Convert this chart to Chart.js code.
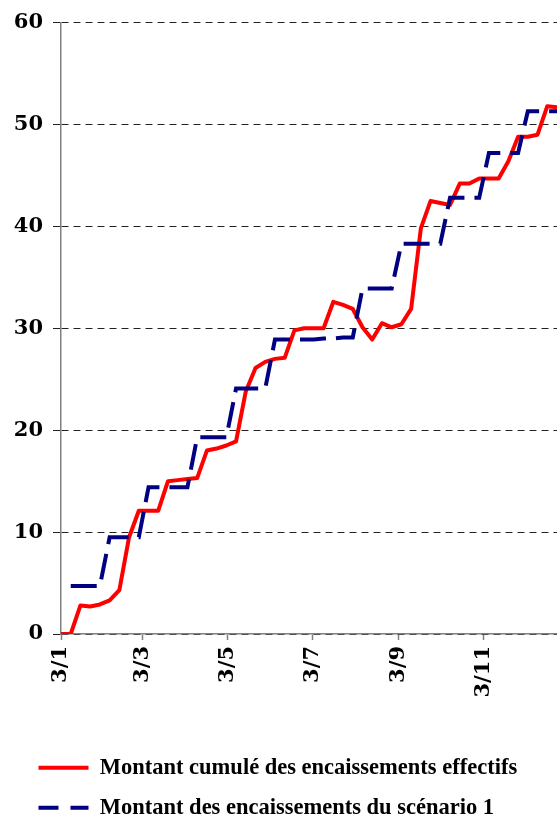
<!DOCTYPE html>
<html>
<head>
<meta charset="utf-8">
<title>Encaissements cumulés</title>
<script src="https://cdn.jsdelivr.net/npm/chart.js@4.4.1/dist/chart.umd.min.js"></script>
<style>
  html, body { margin: 0; padding: 0; background: #ffffff; overflow: hidden; }
  #wrap { position: relative; width: 557px; height: 829px; }
</style>
</head>
<body>
<div id="wrap"><canvas id="chart"></canvas></div>
<script>
// Jours écoulés depuis le 3/1 (un point par semaine)
const days = [
  0, 7, 14, 21, 28, 35, 42, 49, 56, 63, 70, 77, 84,
  91, 98, 105, 112, 119, 126, 133, 140, 147, 154, 161, 168, 175,
  182, 189, 196, 203, 210, 217, 224, 231, 238, 245, 252, 259, 266,
  273, 280, 287, 294, 301, 308, 315, 322, 329, 336, 343, 350, 357,
];

// Montant cumulé des encaissements effectifs
const effectifs = [
  0, 0, 2.8, 2.7, 2.9, 3.3, 4.3, 9.5, 12.1, 12.1, 12.1, 15.0, 15.1,
  15.2, 15.3, 18.0, 18.2, 18.5, 18.9, 23.8, 26.1, 26.7, 27.0, 27.1, 29.8, 30.0,
  30.0, 30.0, 32.6, 32.3, 31.9, 30.1, 28.9, 30.5, 30.1, 30.4, 31.9, 39.8, 42.5,
  42.3, 42.1, 44.2, 44.2, 44.7, 44.7, 44.7, 46.4, 48.8, 48.8, 49.0, 51.8, 51.7,
];

// Montant des encaissements du scénario 1
const scenario1 = [
  null, 4.7, 4.7, 4.7, 4.7, 9.5, 9.5, 9.5, 9.5, 14.4, 14.4, 14.4, 14.4,
  14.4, 19.3, 19.3, 19.3, 19.3, 24.1, 24.1, 24.1, 24.1, 28.9, 28.9, 28.9, 28.9,
  28.9, 29.0, 29.0, 29.1, 29.1, 33.9, 33.9, 33.9, 33.9, 38.3, 38.3, 38.3, 38.3,
  38.3, 42.8, 42.8, 42.8, 42.8, 47.2, 47.2, 47.2, 47.2, 51.3, 51.3, 51.3, 51.3,
];

// Graduations de l'axe des dates
const tickDays = [0, 59, 120, 181, 243, 304];
const tickLabels = ["3/1", "3/3", "3/5", "3/7", "3/9", "3/11"];

const seriesNames = [
  "Montant cumulé des encaissements effectifs",
  "Montant des encaissements du scénario 1",
];

const toPoints = (values) => values.map((v, i) => ({ x: days[i], y: v }));

const tickFont = { family: "DejaVu Serif", weight: "bold", size: 21 };

// Décale la légende vers la droite, sans toucher à l'axe vertical
const legendShift = {
  id: "legendShift",
  afterLayout(chart) {
    chart.legend.left += 9;
    chart.legend.right += 9;
  },
};

new Chart(document.getElementById("chart"), {
  type: "line",
  plugins: [legendShift],
  data: {
    datasets: [
      {
        label: seriesNames[0],
        data: toPoints(effectifs),
        borderColor: "#ff0000",
        backgroundColor: "#ff0000",
        borderWidth: 4,
        borderJoinStyle: "round",
        pointRadius: 0,
        tension: 0,
        order: 1,
      },
      {
        label: seriesNames[1],
        data: toPoints(scenario1),
        borderColor: "#000080",
        backgroundColor: "#000080",
        borderWidth: 4,
        borderDash: [26, 10],
        borderCapStyle: "butt",
        pointRadius: 0,
        tension: 0,
        order: 0,
      },
    ],
  },
  options: {
    responsive: true,
    maintainAspectRatio: false,
    animation: false,
    layout: { padding: { left: 12, top: 22, right: 0, bottom: 0 } },
    plugins: {
      tooltip: { enabled: false },
      legend: {
        position: "bottom",
        align: "start",
        reverse: true,
        labels: {
          usePointStyle: true,
          pointStyle: "line",
          pointStyleWidth: 50,
          padding: 17.5,
          color: "#000000",
          font: { family: "Liberation Serif", weight: "bold", size: 22.5 },
          generateLabels: (chart) => {
            const items = Chart.defaults.plugins.legend.labels.generateLabels(chart);
            items.forEach((item) => {
              item.pointStyle = "line";
              if (item.datasetIndex === 1) item.lineDash = [20, 12];
            });
            return items;
          },
        },
      },
    },
    scales: {
      x: {
        type: "linear",
        min: 0,
        max: 357,
        afterBuildTicks: (scale) => {
          scale.ticks = tickDays.map((d) => ({ value: d }));
        },
        afterFit: (scale) => {
          scale.height = 105;
        },
        ticks: {
          autoSkip: false,
          minRotation: 90,
          maxRotation: 90,
          padding: 6,
          color: "#000000",
          font: tickFont,
          callback: (value) => tickLabels[tickDays.indexOf(value)],
        },
        grid: {
          drawOnChartArea: false,
          drawTicks: true,
          tickLength: 6,
          tickColor: "#808080",
          tickWidth: 1.5,
        },
        border: { display: true, color: "#808080", width: 1.5 },
      },
      y: {
        min: 0,
        max: 60,
        afterFit: (scale) => {
          scale.width = 49;
        },
        ticks: {
          stepSize: 10,
          padding: 10,
          color: "#000000",
          font: tickFont,
        },
        grid: {
          color: "#222222",
          lineWidth: 1,
          tickLength: 8,
          tickColor: "#222222",
          tickWidth: 1,
        },
        border: { display: true, color: "#808080", width: 1.5, dash: [7, 5] },
      },
    },
  },
});
</script>
</body>
</html>
